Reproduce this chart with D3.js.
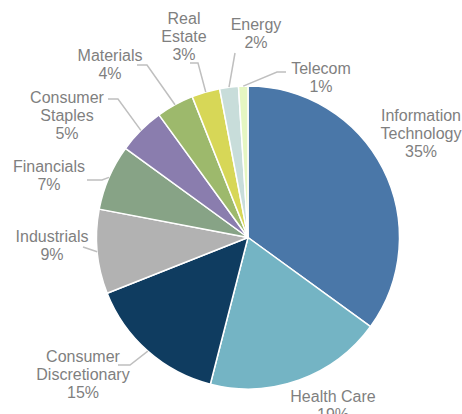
<!DOCTYPE html>
<html>
<head>
<meta charset="utf-8">
<script src="https://cdn.jsdelivr.net/npm/d3@7"></script>
<style>
  html, body { margin: 0; padding: 0; background: #fff; }
  svg { display: block; }
</style>
</head>
<body>
<svg id="chart" width="462" height="414"></svg>
<script>
// Sector weights (%)
const sectors = ["Information Technology", "Health Care", "Consumer Discretionary", "Industrials",
  "Financials", "Consumer Staples", "Materials", "Real Estate", "Energy", "Telecom"];
const weights = [35, 19, 15, 9, 7, 5, 4, 3, 2, 1];
const labelLines = [
  ["Information", "Technology"], ["Health Care"], ["Consumer", "Discretionary"], ["Industrials"],
  ["Financials"], ["Consumer", "Staples"], ["Materials"], ["Real", "Estate"], ["Energy"], ["Telecom"]
];

const palette = ["#4A77A8", "#74B4C4", "#0F3C60", "#B2B2B2", "#87A386",
  "#8A7DAE", "#9DB96C", "#D7D757", "#C8DDDA", "#E5F6C2"];

// Label placement: text centre and first-line centre y, plus leader points on the label side
const labelLayout = [
  { x: 421, y: 115, leader: null },
  { x: 333, y: 396, leader: null },
  { x: 83,  y: 356, leader: [[118, 365], [130, 365]] },
  { x: 52,  y: 236, leader: [[83, 247]] },
  { x: 49,  y: 166, leader: [[87, 180], [102, 180]] },
  { x: 67,  y: 97,  leader: [[108, 99], [118, 99]] },
  { x: 110, y: 55,  leader: [[137, 65], [147, 65]] },
  { x: 184, y: 18,  leader: [[190, 63], [198, 63]] },
  { x: 256, y: 24,  leader: [[235, 53]] },
  { x: 321, y: 68,  leader: [[286, 72], [277, 72]] }
];

const cx = 248, cy = 237.5, radius = 151.5;
const lineH = 18;

const data = sectors.map((name, i) => ({ name, value: weights[i], lines: labelLines[i], i }));

const svg = d3.select("#chart");
const g = svg.append("g").attr("transform", `translate(${cx},${cy})`);

const pie = d3.pie().value(d => d.value).sort(null);
const arc = d3.arc().innerRadius(0).outerRadius(radius);
const arcs = pie(data);

g.selectAll("path.slice")
  .data(arcs)
  .enter().append("path")
  .attr("class", "slice")
  .attr("d", arc)
  .attr("fill", d => palette[d.data.i])
  .attr("stroke", "#fff")
  .attr("stroke-width", 1.5)
  .attr("stroke-linejoin", "round");

// Leader lines from label to slice edge at mid-angle
const line = d3.line();
arcs.forEach(a => {
  const lay = labelLayout[a.data.i];
  if (!lay.leader) return;
  const mid = (a.startAngle + a.endAngle) / 2;
  const edge = [cx + radius * Math.sin(mid), cy - radius * Math.cos(mid)];
  svg.append("path")
    .attr("d", line([...lay.leader, edge]))
    .attr("fill", "none")
    .attr("stroke", "#BFBFBF")
    .attr("stroke-width", 1.5);
});

// Labels
arcs.forEach(a => {
  const lay = labelLayout[a.data.i];
  const rows = [...a.data.lines, a.data.value + "%"];
  const t = svg.append("text")
    .attr("text-anchor", "middle")
    .attr("font-family", "'Liberation Sans', Arial, sans-serif")
    .attr("font-size", 16)
    .attr("fill", "#7F7F7F");
  rows.forEach((r, k) => {
    t.append("tspan")
      .attr("x", lay.x)
      .attr("y", lay.y + k * lineH)
      .attr("dy", "0.35em")
      .text(r);
  });
});
</script>
</body>
</html>
